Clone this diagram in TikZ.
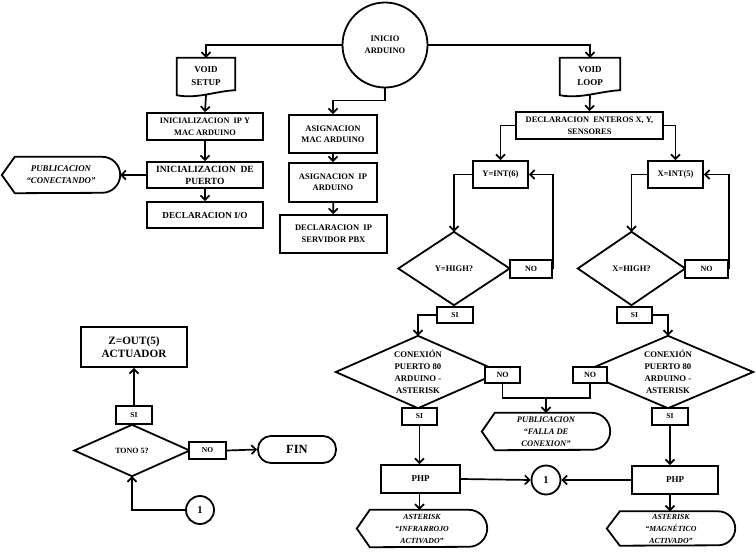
\documentclass[tikz,border=0pt]{standalone}
\usepackage{fontspec}
\setmainfont{Liberation Serif}
\usetikzlibrary{arrows.meta,calc}
\tikzset{
 bx/.style={draw,line width=1.8pt,rectangle,inner sep=0pt,align=center,font=\bfseries\fontsize{8.5}{11}\selectfont},
 plain/.style={inner sep=0pt,align=center,font=\bfseries\fontsize{8}{11}\selectfont},
 arr/.style={line width=1.7pt,-{Straight Barb[length=4.5pt,width=9pt]}},
 ln/.style={line width=1.7pt},
 bd/.style={line width=1.8pt,line join=miter},
 it/.style={font=\bfseries\itshape\fontsize{8.5}{12}\selectfont},
}
\newcommand\mydmd[1]{\draw[bd] (#1.north)--(#1.east)--(#1.south)--(#1.west)--cycle;}
\newcommand\mydisp[2]{\draw[bd] (#1.west) -- ([xshift=13pt]#1.north west) -- ([xshift=-#2]#1.north east) arc[start angle=90,end angle=-90,radius=#2] -- ([xshift=13pt]#1.south west) -- cycle;}
\newcommand\mydoc[1]{\draw[bd] (#1.south west) -- (#1.north west) -- (#1.north east) -- ([yshift=5pt]#1.south east) .. controls +(-20pt,-1pt) and +(20pt,-4pt) .. (#1.south west) -- cycle;}
\begin{document}
\begin{tikzpicture}[x=1pt,y=-1pt]
\fill[white] (0,0) rectangle (756,554);
\useasboundingbox (0,0) rectangle (756,554);

% top
\node[bx,circle,minimum size=85pt,font=\bfseries\fontsize{8.5}{12}\selectfont] (inicio) at (385,45) {INICIO\\ARDUINO};

% setup branch
\node[plain,minimum width=58pt,minimum height=37pt,font=\bfseries\fontsize{9}{13}\selectfont] (setup) at (206,76.5) {VOID\\SETUP};
\mydoc{setup}
\node[bx,minimum width=116pt,minimum height=27pt,font=\bfseries\fontsize{8.3}{12}\selectfont] (ipmac) at (205,126.5) {INICIALIZACION \ IP Y\\MAC ARDUINO};
\node[bx,minimum width=116pt,minimum height=26pt,font=\bfseries\fontsize{9.5}{12}\selectfont] (puerto) at (205,175) {INICIALIZACION \ DE\\PUERTO};
\node[bx,minimum width=116pt,minimum height=26pt,font=\bfseries\fontsize{9.2}{12}\selectfont] (declio) at (205,215) {DECLARACION I/O};
\node[plain,minimum width=118pt,minimum height=36pt,it,font=\bfseries\itshape\fontsize{8.8}{12}\selectfont] (conect) at (61,175) {PUBLICACION\\“CONECTANDO”};
\mydisp{conect}{18pt}

% middle branch
\node[bx,minimum width=88pt,minimum height=38pt] (asigmac) at (333,134) {ASIGNACION\\MAC ARDUINO};
\node[bx,minimum width=88pt,minimum height=39pt] (asigip) at (333,182.5) {ASIGNACION \ IP\\ARDUINO};
\node[bx,minimum width=107pt,minimum height=38pt,font=\bfseries\fontsize{8.5}{12}\selectfont] (declip) at (333.5,234) {DECLARACION \ IP\\SERVIDOR PBX};

% loop branch
\node[plain,minimum width=60pt,minimum height=37pt,font=\bfseries\fontsize{9}{13}\selectfont] (loop) at (590,76.5) {VOID\\LOOP};
\mydoc{loop}
\node[bx,minimum width=147pt,minimum height=27pt,font=\bfseries\fontsize{8.4}{12}\selectfont] (enteros) at (589.5,125.5) {DECLARACION \ ENTEROS X, Y,\\SENSORES};
\node[bx,minimum width=55pt,minimum height=27pt,font=\bfseries\fontsize{8.5}{10}\selectfont] (yint) at (500.5,174.5) {Y=INT(6)};
\node[bx,minimum width=55pt,minimum height=27pt,font=\bfseries\fontsize{8.5}{10}\selectfont] (xint) at (675.5,174.5) {X=INT(5)};

\node[plain,minimum width=111pt,minimum height=73pt,font=\bfseries\fontsize{8.5}{10}\selectfont] (ydia) at (454,268.5) {Y=HIGH?};
\mydmd{ydia}
\node[plain,minimum width=107pt,minimum height=73pt,font=\bfseries\fontsize{8.5}{10}\selectfont] (xdia) at (631.5,268.5) {X=HIGH?};
\mydmd{xdia}
\node[bx,fill=white,minimum width=42pt,minimum height=18pt,font=\bfseries\fontsize{8}{10}\selectfont] (ynob) at (531,269) {NO};
\node[bx,fill=white,minimum width=43pt,minimum height=18pt,font=\bfseries\fontsize{8}{10}\selectfont] (xnob) at (706.5,269) {NO};
\node[bx,fill=white,minimum width=36pt,minimum height=16pt,font=\bfseries\fontsize{7.5}{10}\selectfont] (ysib) at (455,315) {SI};
\node[bx,fill=white,minimum width=35pt,minimum height=16pt,font=\bfseries\fontsize{7.5}{10}\selectfont] (xsib) at (634.5,315) {SI};

\node[plain,minimum width=164pt,minimum height=72pt,font=\bfseries\fontsize{8.7}{11.8}\selectfont] (cona) at (418,372) {CONEXIÓN\\PUERTO 80\\ARDUINO -\\ASTERISK};
\mydmd{cona}
\node[plain,minimum width=170pt,minimum height=72pt,font=\bfseries\fontsize{8.7}{11.8}\selectfont] (conb) at (668,372) {CONEXIÓN\\PUERTO 80\\ARDUINO -\\ASTERISK};
\mydmd{conb}
\node[bx,fill=white,minimum width=35pt,minimum height=16pt,font=\bfseries\fontsize{8}{10}\selectfont] (conanob) at (502.5,375) {NO};
\node[bx,fill=white,minimum width=34pt,minimum height=16pt,font=\bfseries\fontsize{8}{10}\selectfont] (conbnob) at (590,375) {NO};
\node[bx,fill=white,minimum width=35pt,minimum height=17pt,font=\bfseries\fontsize{7.5}{10}\selectfont] (conasib) at (419.5,416.5) {SI};
\node[bx,fill=white,minimum width=36pt,minimum height=17pt,font=\bfseries\fontsize{7.5}{10}\selectfont] (conbsib) at (670,416.5) {SI};

\node[plain,minimum width=128pt,minimum height=37pt,it,font=\bfseries\itshape\fontsize{8.5}{12}\selectfont] (falla) at (546,431.5) {PUBLICACION\\“FALLA DE\\CONEXION”};
\mydisp{falla}{18.5pt}

\node[bx,minimum width=79pt,minimum height=28pt,font=\bfseries\fontsize{9}{10}\selectfont] (phpa) at (420.5,479) {PHP};
\node[bx,minimum width=86pt,minimum height=28pt,font=\bfseries\fontsize{9}{10}\selectfont] (phpb) at (675,480) {PHP};
\node[bx,circle,minimum size=29pt,font=\bfseries\fontsize{10.5}{12}\selectfont] (c1r) at (546,480) {1};

\node[plain,minimum width=130pt,minimum height=37pt,it,font=\bfseries\itshape\fontsize{7.8}{12}\selectfont] (infra) at (422,528.5) {ASTERISK\\“INFRARROJO\\ACTIVADO”};
\mydisp{infra}{18.5pt}
\node[plain,minimum width=128pt,minimum height=34pt,it,font=\bfseries\itshape\fontsize{7.8}{12}\selectfont] (magn) at (671,528.5) {ASTERISK\\“MAGNÉTICO\\ACTIVADO”};
\mydisp{magn}{17pt}

% bottom-left
\node[bx,minimum width=106pt,minimum height=40pt,font=\bfseries\fontsize{11.2}{13.5}\selectfont] (zout) at (134,347) {Z=OUT(5)\\ACTUADOR};
\node[plain,minimum width=115pt,minimum height=51pt,font=\bfseries\fontsize{8}{10}\selectfont] (tono) at (132,450.5) {TONO 5?};
\mydmd{tono}
\node[bx,fill=white,minimum width=36pt,minimum height=18pt,font=\bfseries\fontsize{7.5}{10}\selectfont] (tsib) at (134,415) {SI};
\node[bx,fill=white,minimum width=37pt,minimum height=17pt,font=\bfseries\fontsize{7.5}{10}\selectfont] (tnob) at (207.5,450.5) {NO};
\node[bx,rounded corners=13pt,minimum width=78pt,minimum height=27pt,font=\bfseries\fontsize{12.5}{14}\selectfont] (fin) at (297,449.5) {FIN};
\node[bx,circle,minimum size=28pt,font=\bfseries\fontsize{10.5}{12}\selectfont] (c1l) at (200,510) {1};

% connectors
\draw[arr] (inicio.west) -| (setup.north);
\draw[arr] (inicio.east) -| (loop.north);
\draw[arr] (inicio.south) -- ++(0,12) -| (asigmac.north);
\draw[arr] (setup.south) -- (ipmac.north);
\draw[arr] (ipmac) -- (puerto);
\draw[arr] (puerto) -- (declio);
\draw[arr] (puerto.west) -- (conect.east);
\draw[arr] (asigmac) -- (asigip);
\draw[arr] (asigip) -- (declip);
\draw[arr] (loop.south) -- (enteros.north);
\draw[arr] (enteros.west) -| (yint.north);
\draw[arr] (enteros.east) -| (xint.north);
\draw[arr] (yint.west) -| (ydia.north);
\draw[arr] (xint.west) -| (xdia.north);
\draw[arr] (ynob.east) |- (yint.east);
\draw[arr] (xnob.east) |- (xint.east);
\draw[arr] (ysib.west) -| (cona.north);
\draw[arr] (xsib.east) -| (conb.north);
\draw[ln] (conbnob.south) -- ++(0,14) -| (falla.north);
\draw[arr] (conanob.south) -- ++(0,14) -| (falla.north);
\draw[arr] (conasib.south) -- (conasib.south |- phpa.north);
\draw[arr] (conbsib.south) -- (conbsib.south |- phpb.north);
\draw[arr] (phpa.east) -- (c1r.west);
\draw[arr] (phpb.west) -- (c1r.east);
\draw[arr] (conasib.south |- phpa.south) -- (conasib.south |- infra.north);
\draw[arr] (conbsib.south |- phpb.south) -- (conbsib.south |- magn.north);
\draw[arr] (tsib.north) -- (zout.south);
\draw[arr] (tnob.east) -- (fin.west);
\draw[arr] (c1l.west) -| (tono.south);
\end{tikzpicture}
\end{document}
